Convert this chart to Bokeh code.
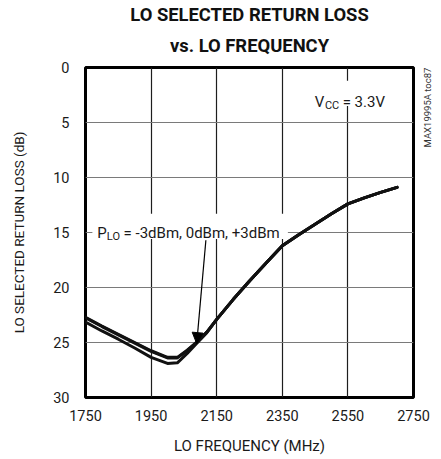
from bokeh.plotting import figure
from bokeh.models import (Range1d, FixedTicker, Label, BoxAnnotation, Arrow, NormalHead,
                          Title, LinearAxis, CustomJSTickFormatter)
from bokeh.embed import file_html
from bokeh.resources import INLINE
import math

# ---- data ----
freq = [1750, 1800, 1850, 1900, 1950, 2000, 2030, 2060, 2090, 2120, 2150, 2200,
        2250, 2300, 2350, 2400, 2450, 2500, 2550, 2600, 2650, 2700]
rl_m3 = [22.7, 23.5, 24.25, 25.0, 25.75, 26.35, 26.35, 25.7, 24.95, 24.05, 22.9, 21.1,
         19.4, 17.8, 16.2, 15.2, 14.25, 13.3, 12.4, 11.85, 11.35, 10.9]
rl_0 = [22.75, 23.55, 24.3, 25.05, 25.8, 26.4, 26.4, 25.75, 24.97, 24.06, 22.9, 21.1,
        19.4, 17.8, 16.2, 15.2, 14.25, 13.3, 12.4, 11.85, 11.35, 10.9]
rl_p3 = [23.15, 23.95, 24.7, 25.5, 26.35, 26.9, 26.85, 26.0, 25.05, 24.1, 22.9, 21.1,
         19.4, 17.8, 16.2, 15.2, 14.25, 13.3, 12.4, 11.85, 11.35, 10.9]
x_ticks = [1750, 1950, 2150, 2350, 2550, 2750]
y_ticks = [0, 5, 10, 15, 20, 25, 30]

FONT = "Roboto"
TXT = "#1a1a1a"

p = figure(width=441, height=459, output_backend="svg", toolbar_location=None,
           x_range=Range1d(1750, 2750), y_range=Range1d(30, 0),
           min_border_left=85, min_border_right=27, min_border_top=67, min_border_bottom=62)
p.background_fill_color = "white"
p.border_fill_color = "white"
p.outline_line_color = "black"
p.outline_line_width = 3

# titles (first added sits closest to the frame)
p.add_layout(Title(text="vs. LO FREQUENCY", align="center", text_font=FONT, text_font_size="18.4px",
                   text_font_style="bold", text_color="#111111", standoff=24), "above")
p.add_layout(Title(text="LO SELECTED RETURN LOSS", align="center", text_font=FONT, text_font_size="18.4px",
                   text_font_style="bold", text_color="#111111", standoff=-8), "above")

for ax in (p.xaxis[0], p.yaxis[0]):
    ax.axis_line_color = None
    ax.major_tick_out = 0
    ax.major_tick_in = 0
    ax.minor_tick_out = 0
    ax.minor_tick_in = 0
    ax.major_label_text_font = FONT
    ax.major_label_text_font_size = "14.5px"
    ax.major_label_text_color = TXT
    ax.axis_label_text_font = FONT
    ax.axis_label_text_font_style = "normal"
    ax.axis_label_text_color = TXT

p.xaxis[0].axis_label_text_font_size = "15px"
p.yaxis[0].axis_label_text_font_size = "13.5px"
p.xaxis[0].ticker = FixedTicker(ticks=x_ticks)
p.yaxis[0].ticker = FixedTicker(ticks=y_ticks)
p.xaxis[0].major_label_standoff = 12
p.xaxis[0].axis_label_standoff = 13
p.yaxis[0].major_label_standoff = 16
p.yaxis[0].axis_label_standoff = 23
p.xaxis[0].axis_label = "LO FREQUENCY (MHz)"
p.yaxis[0].axis_label = "LO SELECTED RETURN LOSS (dB)"

# figure id on the right side, as a rotated tick label
rax = LinearAxis(ticker=FixedTicker(ticks=[7.27]),
                 formatter=CustomJSTickFormatter(code="return 'MAX19995A toc87'"))
rax.axis_line_color = None
rax.major_tick_out = 0
rax.major_tick_in = 0
rax.minor_tick_out = 0
rax.minor_tick_in = 0
rax.major_label_orientation = math.pi / 2
rax.major_label_standoff = 14
rax.major_label_text_font = FONT
rax.major_label_text_font_size = "9.5px"
rax.major_label_text_color = "#333333"
p.add_layout(rax, "right")

p.xgrid.ticker = FixedTicker(ticks=x_ticks[1:-1])
p.ygrid.ticker = FixedTicker(ticks=y_ticks[1:-1])
p.xgrid.grid_line_color = "#1e1e1e"
p.xgrid.grid_line_width = 1.2
p.ygrid.grid_line_color = "#7a7a7a"
p.ygrid.grid_line_width = 1.2

# white boxes behind annotation texts (interrupt the grid)
p.add_layout(BoxAnnotation(left=1771, right=2367, top=13.3, bottom=15.6,
                           fill_color="white", fill_alpha=1, line_color=None, level="underlay"))
p.add_layout(BoxAnnotation(left=2440, right=2680, top=1.2, bottom=3.5,
                           fill_color="white", fill_alpha=1, line_color=None, level="underlay"))

# curves
for vals in (rl_m3, rl_0, rl_p3):
    p.line(freq, vals, line_width=3.0, line_color="#111111", line_join="round", line_cap="round")

# arrow
p.add_layout(Arrow(end=NormalHead(size=11, fill_color="black", line_color="black"),
                   x_start=2117, y_start=15.7, x_end=2089, y_end=25.1,
                   line_width=1.2, line_color="black"))

def lab(text, x, y, size="15px"):
    p.add_layout(Label(x=x, y=y, text=text, text_font=FONT, text_font_size=size,
                       text_align="left", text_baseline="alphabetic", text_color=TXT))

# V_CC = 3.3V
lab("V", 2449, 3.16)
lab("CC", 2480, 3.48, size="11px")
lab("= 3.3V", 2534, 3.16)

# P_LO = ...
lab("P", 1786, 15.0)
lab("LO", 1815, 15.35, size="11px")
lab("= -3dBm, 0dBm, +3dBm", 1866, 15.0)

open("out.html", "w").write(file_html(p, INLINE))
